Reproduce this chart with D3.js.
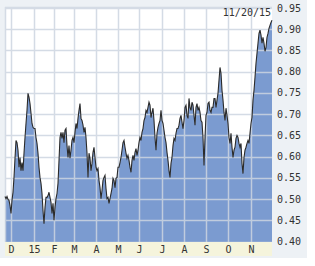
<!DOCTYPE html>
<html>
<head>
<meta charset="utf-8">
<script src="https://cdn.jsdelivr.net/npm/d3@7"></script>
<style>
  body { margin: 0; background: #fff; }
  svg { display: block; }
  .tick-label { font-family: "DejaVu Sans Mono", monospace; font-size: 10px; fill: #333; }
</style>
</head>
<body>
<div id="chart"></div>
<script>
// daily closes, 11/20/14 .. 11/20/15 (one per trading day)
const values = [
  0.506, 0.501, 0.506, 0.499, 0.497, 0.485, 0.466, 0.497, 0.516, 0.551,
  0.596, 0.638, 0.633, 0.615, 0.575, 0.598, 0.567, 0.586, 0.567, 0.608,
  0.645, 0.678, 0.709, 0.749, 0.740, 0.725, 0.702, 0.678, 0.669, 0.666,
  0.666, 0.645, 0.631, 0.608, 0.575, 0.551, 0.537, 0.513, 0.473, 0.442,
  0.480, 0.504, 0.504, 0.508, 0.516, 0.504, 0.492, 0.466, 0.490, 0.450,
  0.480, 0.501, 0.513, 0.537, 0.591, 0.645, 0.657, 0.643, 0.657, 0.633,
  0.662, 0.666, 0.626, 0.598, 0.626, 0.596, 0.615, 0.638, 0.645, 0.633,
  0.657, 0.678, 0.666, 0.690, 0.709, 0.725, 0.690, 0.685, 0.674, 0.657,
  0.669, 0.645, 0.608, 0.551, 0.608, 0.596, 0.567, 0.584, 0.610, 0.622,
  0.598, 0.575, 0.567, 0.572, 0.544, 0.527, 0.501, 0.520, 0.544, 0.551,
  0.556, 0.525, 0.501, 0.504, 0.490, 0.501, 0.513, 0.525, 0.549, 0.544,
  0.527, 0.549, 0.551, 0.575, 0.575, 0.586, 0.598, 0.615, 0.633, 0.638,
  0.622, 0.608, 0.596, 0.603, 0.591, 0.575, 0.563, 0.591, 0.603, 0.591,
  0.610, 0.619, 0.603, 0.615, 0.633, 0.645, 0.638, 0.657, 0.666, 0.685,
  0.692, 0.709, 0.704, 0.716, 0.728, 0.721, 0.692, 0.704, 0.714, 0.685,
  0.645, 0.615, 0.655, 0.669, 0.678, 0.685, 0.709, 0.685, 0.678, 0.662,
  0.645, 0.633, 0.610, 0.591, 0.567, 0.551, 0.584, 0.598, 0.626, 0.643,
  0.638, 0.655, 0.666, 0.666, 0.674, 0.690, 0.697, 0.681, 0.666, 0.685,
  0.716, 0.721, 0.697, 0.690, 0.737, 0.716, 0.709, 0.728, 0.721, 0.697,
  0.674, 0.716, 0.725, 0.709, 0.716, 0.704, 0.685, 0.681, 0.645, 0.579,
  0.645, 0.697, 0.704, 0.725, 0.728, 0.709, 0.704, 0.716, 0.716, 0.737,
  0.737, 0.716, 0.733, 0.749, 0.780, 0.810, 0.796, 0.756, 0.733, 0.704,
  0.685, 0.714, 0.697, 0.678, 0.645, 0.631, 0.655, 0.622, 0.598, 0.615,
  0.622, 0.643, 0.650, 0.645, 0.631, 0.622, 0.631, 0.584, 0.560, 0.598,
  0.615, 0.622, 0.631, 0.638, 0.631, 0.655, 0.678, 0.692, 0.733, 0.756,
  0.787, 0.820, 0.843, 0.867, 0.890, 0.898, 0.886, 0.867, 0.881, 0.867,
  0.848, 0.857, 0.881, 0.890, 0.902, 0.909, 0.916, 0.921
];

// month labels and the trading-day index where each month starts
const monthLabels = ["D", "15", "F", "M", "A", "M", "J", "J", "A", "S", "O", "N"];
const monthStarts = [6, 29, 49, 69, 91, 113, 134, 157, 179, 201, 223, 246];

const yTicks = [0.40, 0.45, 0.50, 0.55, 0.60, 0.65, 0.70, 0.75, 0.80, 0.85, 0.90, 0.95];
const lastDate = "11/20/15";

const W = 315, H = 266;
const PLOT = { LEFT: 5, RIGHT: 272, TOP: 7, BOTTOM: 242 };

const svg = d3.select("#chart").append("svg").attr("width", W).attr("height", H);

// panel background
svg.append("rect").attr("x", 0).attr("y", 0).attr("width", 307).attr("height", 258).attr("fill", "#edf1f5");
svg.append("rect")
  .attr("x", PLOT.LEFT).attr("y", PLOT.TOP)
  .attr("width", PLOT.RIGHT - PLOT.LEFT).attr("height", PLOT.BOTTOM - PLOT.TOP)
  .attr("fill", "#fff");

const x = d3.scaleLinear().domain([0, values.length - 1]).range([PLOT.LEFT, PLOT.RIGHT]);
const y = d3.scaleLinear().domain([0.40, 0.95]).range([241.5, 8]);

const area = d3.area().x((d, i) => x(i)).y0(PLOT.BOTTOM).y1(d => y(d));
const line = d3.line().x((d, i) => x(i)).y(d => y(d));

svg.append("path").datum(values).attr("d", area).attr("fill", "#7b9bd0");

// grid on top of the area
const grid = svg.append("g").attr("stroke", "#cdd5e1").attr("stroke-width", 1.5).attr("opacity", 0.85);
grid.selectAll("line.h").data(yTicks).join("line").attr("class", "h")
  .attr("x1", PLOT.LEFT).attr("x2", PLOT.RIGHT)
  .attr("y1", d => Math.round(y(d)) + 0.5).attr("y2", d => Math.round(y(d)) + 0.5);
grid.selectAll("line.v").data(monthStarts).join("line").attr("class", "v")
  .attr("y1", PLOT.TOP).attr("y2", PLOT.BOTTOM)
  .attr("x1", d => Math.round(x(d)) + 0.5).attr("x2", d => Math.round(x(d)) + 0.5);
grid.append("line").attr("x1", PLOT.LEFT + 0.5).attr("x2", PLOT.LEFT + 0.5).attr("y1", PLOT.TOP).attr("y2", PLOT.BOTTOM);
grid.append("line").attr("x1", PLOT.LEFT).attr("x2", PLOT.RIGHT).attr("y1", PLOT.TOP + 0.5).attr("y2", PLOT.TOP + 0.5);

svg.append("path").datum(values).attr("d", line)
  .attr("fill", "none").attr("stroke", "#2b2b2b").attr("stroke-width", 1.1);

// x axis strip
svg.append("rect").attr("x", PLOT.LEFT).attr("y", PLOT.BOTTOM)
  .attr("width", PLOT.RIGHT - PLOT.LEFT).attr("height", 14).attr("fill", "#f5f4dc");
svg.selectAll("text.mon").data(monthStarts).join("text").attr("class", "tick-label mon")
  .attr("x", d => x(d) + 0.5).attr("y", 253)
  .attr("text-anchor", "middle")
  .text((d, i) => monthLabels[i]);

// right value axis
svg.selectAll("text.val").data(yTicks).join("text").attr("class", "tick-label val")
  .attr("x", 277).attr("y", d => y(d) + 3.5)
  .text(d => d.toFixed(2));

svg.append("text").attr("class", "tick-label")
  .attr("x", 271).attr("y", 16).attr("text-anchor", "end")
  .text(lastDate);
</script>
</body>
</html>
